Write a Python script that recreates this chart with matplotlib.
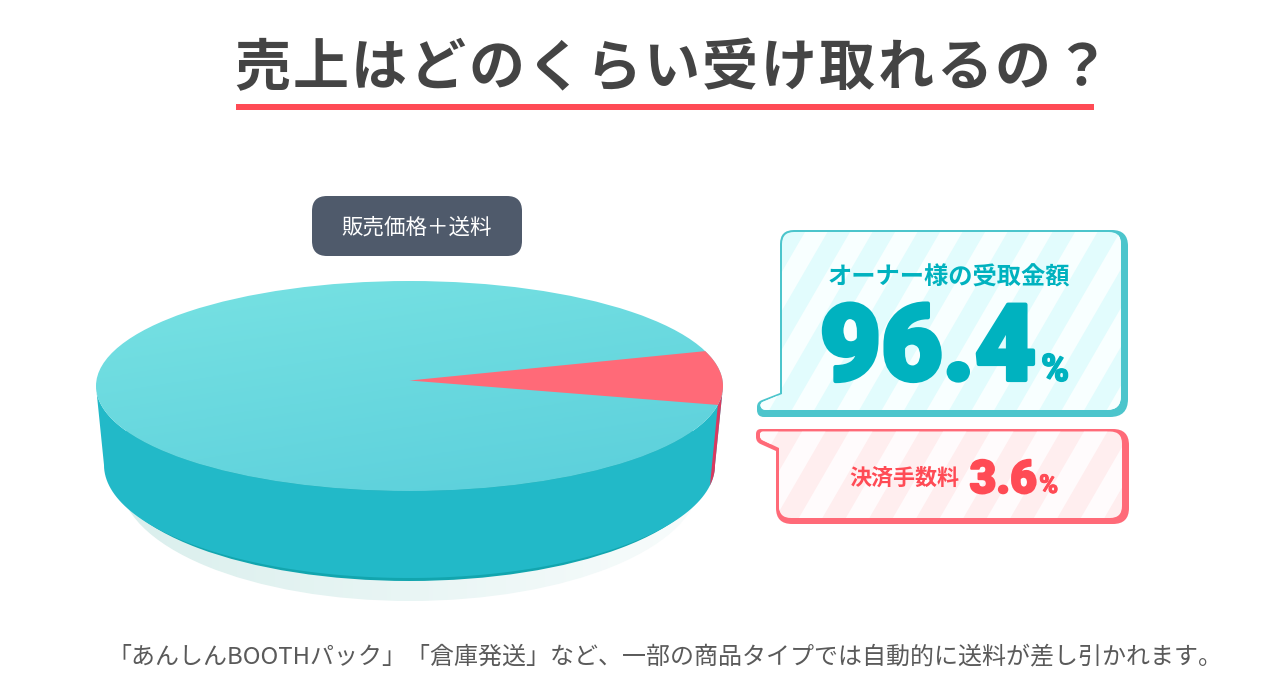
#!/usr/bin/env python3
import numpy as np
import matplotlib
matplotlib.use('Agg')
import matplotlib.pyplot as plt
import matplotlib.patheffects as pe
from matplotlib.colors import LinearSegmentedColormap
from matplotlib.patches import PathPatch, Polygon, Ellipse
from matplotlib.path import Path

plt.rcParams['font.family'] = ['Noto Sans CJK JP', 'DejaVu Sans']

title = '売上はどのくらい受け取れるの？'
pie_label = '販売価格＋送料'
footnote = '「あんしんBOOTHパック」「倉庫発送」など、一部の商品タイプでは自動的に送料が差し引かれます。'
slice_labels = ['オーナー様の受取金額', '決済手数料']
slice_values = [96.4, 3.6]
# the drawing does not keep the wedge to scale, these are the angles as drawn
red_wedge_angles = [-10.4, 19.4]

TEAL_TEXT = '#00B2BF'
RED_TEXT = '#FF4B55'


def px(size):
    return size * 0.72


def rounded(verts, radii):
    # closed path through verts, each corner rounded with a quadratic curve
    n = len(verts)
    pts, codes = [], []
    for i in range(n):
        p = np.array(verts[i], float)
        a = np.array(verts[i - 1], float)
        b = np.array(verts[(i + 1) % n], float)
        r = radii[i]
        p1 = p + (a - p) / np.linalg.norm(a - p) * r
        p2 = p + (b - p) / np.linalg.norm(b - p) * r
        pts += [p1, p, p2]
        codes += [Path.MOVETO if i == 0 else Path.LINETO, Path.CURVE3, Path.CURVE3]
    pts.append(pts[0])
    codes.append(Path.CLOSEPOLY)
    return Path(pts, codes)


def arc(cx, cy, rx, ry, start, end, n=120):
    t = np.radians(np.linspace(start, end, n))
    return np.column_stack([cx + rx * np.cos(t), cy - ry * np.sin(t)])


def gradient_fill(ax, patch, box, c1, c2, angle):
    # linear gradient in the box, clipped to the patch
    l, t, r, b = box
    yy, xx = np.mgrid[0:1:200j, 0:1:200j]
    a = np.radians(angle)
    g = xx * np.cos(a) + yy * np.sin(a)
    g = (g - g.min()) / (g.max() - g.min())
    cmap = LinearSegmentedColormap.from_list('g', [c1, c2])
    im = ax.imshow(g, cmap=cmap, extent=[l, r, b, t], aspect='auto', zorder=patch.get_zorder())
    ax.add_patch(patch)
    patch.set_visible(False)
    im.set_clip_path(patch)


def bubble(ax, outer, outer_r, inner, inner_r, edge, band1, band2, first_band, period):
    ax.add_patch(PathPatch(rounded(outer, outer_r), fc=edge, ec='none', zorder=3))
    inner_patch = PathPatch(rounded(inner, inner_r), fc=band1, ec='none', zorder=4)
    ax.add_patch(inner_patch)
    ys = [v[1] for v in inner]
    top, bot = min(ys), max(ys)
    lean = (bot - top) * 0.58
    for i in range(-2, 10):
        x = first_band + i * period
        st = Polygon([(x, top), (x + period / 2, top), (x + period / 2 - lean, bot), (x - lean, bot)],
                     fc=band2, ec='none', zorder=5)
        ax.add_patch(st)
        st.set_clip_path(inner_patch)


def heavy(ax, x, y, text, size, color, stroke, ha):
    ax.text(x, y, text, fontsize=px(size), fontweight='black', family='Roboto', color=color,
            ha=ha, va='baseline', zorder=6,
            path_effects=[pe.withStroke(linewidth=stroke, foreground=color)])


fig = plt.figure(figsize=(12.88, 7), dpi=100)
ax = fig.add_axes([0, 0, 1, 1])

# title, set with wide letter spacing
for i, ch in enumerate(title):
    ax.text(262 + 58.5 * i, 69, ch, fontsize=px(56), fontweight='bold', color='#444444', ha='center', va='center')
ax.add_patch(plt.Rectangle((236, 104), 858, 6, fc='#FF4B55', ec='none'))

# label above the pie
ax.add_patch(PathPatch(rounded([(312, 196), (522, 196), (522, 256), (312, 256)], [15] * 4),
                       fc='#4F5A6B', ec='none'))
ax.text(417, 228, pie_label, fontsize=px(21.5), color='white', ha='center', va='center')

# pie
cx, cy, rx, ry = 409.5, 386, 313.5, 105
bx, by, brx, bry = 409.5, 465, 305.5, 113

shadow = Ellipse((410, 480), 580, 242, fc='#DFF1F0', ec='none', zorder=1)
gradient_fill(ax, shadow, (120, 470, 700, 605), '#DAEFED', '#F8FCFC', 0)
ax.add_patch(Ellipse((bx, by + 3), brx * 2 - 12, bry * 2, fc='#12A5AE', ec='none', zorder=1.5))

side = np.vstack([arc(cx, cy, rx, ry, 180, 360), arc(bx, by, brx, bry, 360, 180)])
ax.add_patch(Polygon(side, fc='#22B9C8', ec='none', zorder=2))
red_side = np.vstack([arc(cx, cy, rx, ry, red_wedge_angles[0], 0), arc(bx, by, brx, bry, 0, red_wedge_angles[0])])
ax.add_patch(Polygon(red_side, fc='#D9395F', ec='none', zorder=2.1))

top = Ellipse((cx, cy), rx * 2, ry * 2, fc='#6CDCE0', ec='none', zorder=2.5)
gradient_fill(ax, top, (cx - rx, cy - ry, cx + rx, cy + ry), '#78E2E3', '#5ACFDB', 65)
wedge = np.vstack([[[409.5, 380.5]], arc(cx, cy, rx, ry, red_wedge_angles[0], red_wedge_angles[1])])
ax.add_patch(Polygon(wedge, fc='#FF6A78', ec='none', zorder=2.6))

# speech bubbles
bubble(ax,
       [(780, 230), (1128, 230), (1128, 417), (757, 417), (757, 402), (780, 393)], [14, 16, 18, 7, 5, 0.1],
       [(782, 232), (1121, 232), (1121, 410), (761, 410), (760, 403), (782, 394)], [12, 12, 14, 5, 3, 0.1],
       '#4CC5CC', '#E2FCFD', '#F8FFFF', 805, 45)
bubble(ax,
       [(756, 429), (1129, 429), (1129, 524), (776, 524), (776, 451), (756, 442)], [5, 16, 16, 16, 0.1, 5],
       [(760, 431.5), (1122, 431.5), (1122, 518), (779, 518), (779, 448), (760, 439)], [3, 12, 12, 12, 0.1, 3],
       '#FF6A78', '#FFEEEF', '#FFFBFC', 802, 47)

ax.text(949, 278, slice_labels[0], fontsize=px(24.3), fontweight='bold', color=TEAL_TEXT,
        ha='center', va='center', zorder=6)
heavy(ax, 1036, 380, f'{slice_values[0]}', 106, TEAL_TEXT, 3, 'right')
heavy(ax, 1041, 381, '%', 38, TEAL_TEXT, 1, 'left')
ax.text(904, 478, slice_labels[1], fontsize=px(22), fontweight='bold', color=RED_TEXT,
        ha='center', va='center', zorder=6)
heavy(ax, 1037, 493, f'{slice_values[1]}', 46, RED_TEXT, 1.5, 'right')
heavy(ax, 1039, 493, '%', 26, RED_TEXT, 0.6, 'left')

# footnote
ax.text(665, 657, footnote, fontsize=px(24), color='#5A5A5A', ha='center', va='center')

ax.set_xlim(0, 1288)
ax.set_ylim(700, 0)
ax.axis('off')
fig.savefig('out.png', dpi=100)
